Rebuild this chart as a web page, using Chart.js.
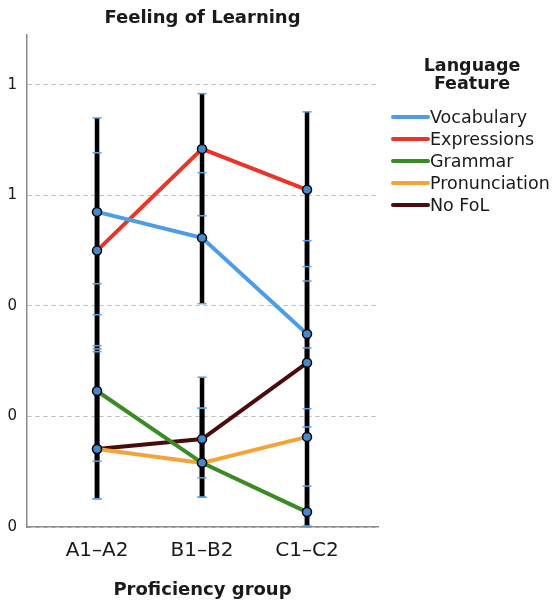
<!DOCTYPE html>
<html>
<head>
<meta charset="utf-8">
<script src="https://cdn.jsdelivr.net/npm/chart.js@4"></script>
<style>
  html, body { margin: 0; padding: 0; background: #fff; }
</style>
</head>
<body>
<canvas id="chartFoL" width="554" height="602"></canvas>
<script>
const groups = ['A1–A2', 'B1–B2', 'C1–C2'];
const featureLabels = ['Vocabulary', 'Expressions', 'Grammar', 'Pronunciation', 'No FoL'];
const featureColors = ['#4d9de6', '#ec3327', '#3a8a25', '#f4a437', '#4a0b0b'];
const legendTitle = ['Language', 'Feature'];

// means
const vocabulary    = [0.570, 0.523, 0.349];
const expressions   = [0.500, 0.684, 0.610];
const grammar       = [0.246, 0.116, 0.027];
const pronunciation = [0.141, 0.116, 0.163];
const noFol         = [0.141, 0.159, 0.297];

// error bar ends
const vocabularyLow     = [0.384, 0.404, 0.181];
const vocabularyHigh    = [0.740, 0.641, 0.518];
const expressionsLow    = [0.322, 0.563, 0.471];
const expressionsHigh   = [0.677, 0.784, 0.751];
const grammarLow        = [0.051, 0.054, 0.000];
const grammarHigh       = [0.440, 0.215, 0.074];
const pronunciationLow  = [0.119, 0.089, 0.002];
const pronunciationHigh = [0.328, 0.215, 0.324];
const noFolLow          = [0.051, 0.054, 0.214];
const noFolHigh         = [0.317, 0.271, 0.445];

const yTicks = [0, 0.2, 0.4, 0.6, 0.8];
const yTickLabels = ['0', '0', '0', '1', '1'];

const means = [vocabulary, expressions, grammar, pronunciation, noFol];
const lows = [vocabularyLow, expressionsLow, grammarLow, pronunciationLow, noFolLow];
const highs = [vocabularyHigh, expressionsHigh, grammarHigh, pronunciationHigh, noFolHigh];

const errorBars = {
  id: 'errorBars',
  beforeDatasetsDraw(chart) {
    const ctx = chart.ctx;
    const x = chart.scales.x;
    const y = chart.scales.y;
    ctx.save();
    ctx.strokeStyle = '#000';
    ctx.lineWidth = 4.5;
    for (let s = 0; s < lows.length; s++) {
      for (let i = 0; i < groups.length; i++) {
        const px = x.getPixelForValue(i);
        ctx.beginPath();
        ctx.moveTo(px, y.getPixelForValue(highs[s][i]));
        ctx.lineTo(px, y.getPixelForValue(lows[s][i]));
        ctx.stroke();
      }
    }
    ctx.strokeStyle = '#5aa2e2';
    ctx.lineWidth = 1.5;
    for (let s = 0; s < lows.length; s++) {
      for (let i = 0; i < groups.length; i++) {
        const px = x.getPixelForValue(i);
        [lows[s][i], highs[s][i]].forEach(v => {
          const py = y.getPixelForValue(v);
          ctx.beginPath();
          ctx.moveTo(px - 4.5, py);
          ctx.lineTo(px + 4.5, py);
          ctx.stroke();
        });
      }
    }
    ctx.restore();
  }
};

const titleAndLegend = {
  id: 'titleAndLegend',
  afterDraw(chart) {
    const ctx = chart.ctx;
    const area = chart.chartArea;
    ctx.save();
    ctx.fillStyle = '#1a1a1a';
    ctx.textBaseline = 'middle';
    ctx.textAlign = 'center';
    ctx.font = 'bold 18px "DejaVu Sans"';
    ctx.fillText('Feeling of Learning', (area.left + area.right) / 2, 18);

    ctx.font = 'bold 17.5px "DejaVu Sans"';
    ctx.fillText(legendTitle[0], 472, 66);
    ctx.fillText(legendTitle[1], 472, 84);

    ctx.textAlign = 'left';
    ctx.font = '17.5px "DejaVu Sans"';
    featureLabels.forEach((lab, i) => {
      const cy = 117 + i * 22;
      ctx.strokeStyle = featureColors[i];
      ctx.lineWidth = 4;
      ctx.lineCap = 'round';
      ctx.beginPath();
      ctx.moveTo(393, cy);
      ctx.lineTo(428, cy);
      ctx.stroke();
      ctx.fillText(lab, 430, cy + 1);
    });
    ctx.restore();
  }
};

const datasets = featureLabels.map((lab, s) => ({
  label: lab,
  data: means[s].map((v, i) => ({ x: i, y: v })),
  borderColor: featureColors[s],
  borderWidth: 4,
  pointRadius: 4.5,
  pointBackgroundColor: '#4788c8',
  pointBorderColor: '#000',
  pointBorderWidth: 1.5,
  tension: 0
}));

new Chart(document.getElementById('chartFoL').getContext('2d'), {
  type: 'line',
  data: { datasets: datasets },
  options: {
    responsive: false,
    animation: false,
    layout: { padding: { top: 35, right: 176, left: 0, bottom: 0 } },
    plugins: {
      legend: { display: false },
      tooltip: { enabled: false }
    },
    scales: {
      x: {
        type: 'linear',
        min: -0.667,
        max: 2.676,
        afterBuildTicks: axis => { axis.ticks = groups.map((g, i) => ({ value: i })); },
        afterFit: axis => { axis.height = 75; },
        grid: { display: false, drawTicks: false },
        border: { color: '#8a8a8a', width: 1.5 },
        ticks: {
          padding: 12,
          color: '#1a1a1a',
          font: { family: 'DejaVu Sans', size: 20 },
          callback: v => groups[v]
        },
        title: {
          display: true,
          text: 'Proficiency group',
          color: '#1a1a1a',
          font: { family: 'DejaVu Sans', size: 18, weight: 'bold' },
          padding: { top: 0, bottom: 1 }
        }
      },
      y: {
        min: 0,
        max: 0.89,
        afterBuildTicks: axis => { axis.ticks = yTicks.map(v => ({ value: v })); },
        afterFit: axis => { axis.width = 27; },
        grid: { color: '#bdbdbd', lineWidth: 1, drawTicks: false },
        border: { color: '#8a8a8a', width: 1.5, dash: [4, 4] },
        ticks: {
          padding: 10,
          color: '#1a1a1a',
          font: { family: 'DejaVu Sans', size: 15 },
          callback: (v, idx) => yTickLabels[idx]
        }
      }
    }
  },
  plugins: [errorBars, titleAndLegend]
});
</script>
</body>
</html>
